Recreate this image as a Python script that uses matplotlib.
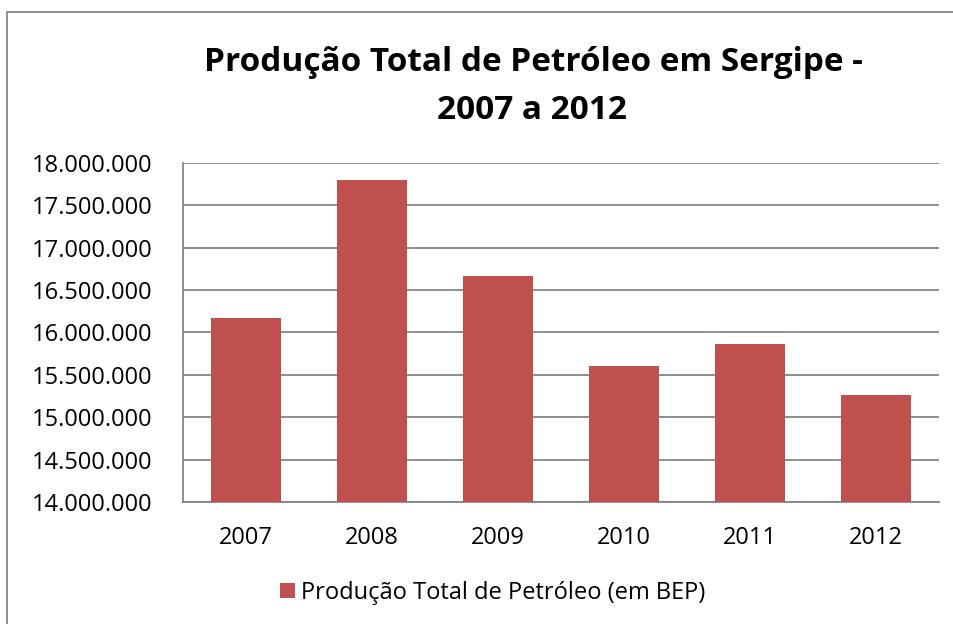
import matplotlib
matplotlib.use("Agg")
import numpy as np
from matplotlib import pyplot as plt
from matplotlib.patches import Rectangle

# data (BEP)
anos = ["2007", "2008", "2009", "2010", "2011", "2012"]
producao = [16170000, 17800000, 16670000, 15610000, 15870000, 15260000]
yticks = list(range(14000000, 18000001, 500000))

plt.rcParams['font.family'] = ['Open Sans', 'DejaVu Sans']

fig = plt.figure(figsize=(9.54, 6.24), dpi=100)
# outer chart border (right and bottom sides fall outside the picture)
fig.patches.append(Rectangle((0.0075, -0.05), 1.1, 1.031, transform=fig.transFigure,
                             fill=False, edgecolor="#868686", linewidth=1.3))

ax = fig.add_axes([0.1918, 0.1955, 0.7925, 0.5433])
x = np.arange(len(anos))
ax.bar(x, producao, width=0.563, color="#C0504D", zorder=3,
       label="Produção Total de Petróleo (em BEP)")

ax.set_ylim(14000000, 18000000)
ax.set_xlim(-0.5, len(anos) - 0.5)
ax.set_yticks(yticks)
ax.set_yticklabels(["{:,}".format(v).replace(",", ".") for v in yticks])
ax.set_xticks(x)
ax.set_xticklabels(anos)
ax.tick_params(axis="both", labelsize=17, length=0)
ax.tick_params(axis="y", pad=22)
ax.tick_params(axis="x", pad=17)
ax.grid(axis="y", color="#868686", linewidth=1.3, zorder=0)

for side in ["top", "right"]:
    ax.spines[side].set_visible(False)
for side in ["left", "bottom"]:
    ax.spines[side].set_color("#868686")
    ax.spines[side].set_linewidth(1.3)

fig.text(0.559, 0.886, "Produção Total de Petróleo em Sergipe -",
         ha="center", va="baseline", fontsize=24, fontweight="bold")
fig.text(0.558, 0.809, "2007 a 2012",
         ha="center", va="baseline", fontsize=24, fontweight="bold")

fig.legend(loc="center", bbox_to_anchor=(0.516, 0.05), frameon=False,
           fontsize=17, handlelength=0.64, handleheight=0.64, handletextpad=0.25)

fig.savefig("out.png", dpi=100)
